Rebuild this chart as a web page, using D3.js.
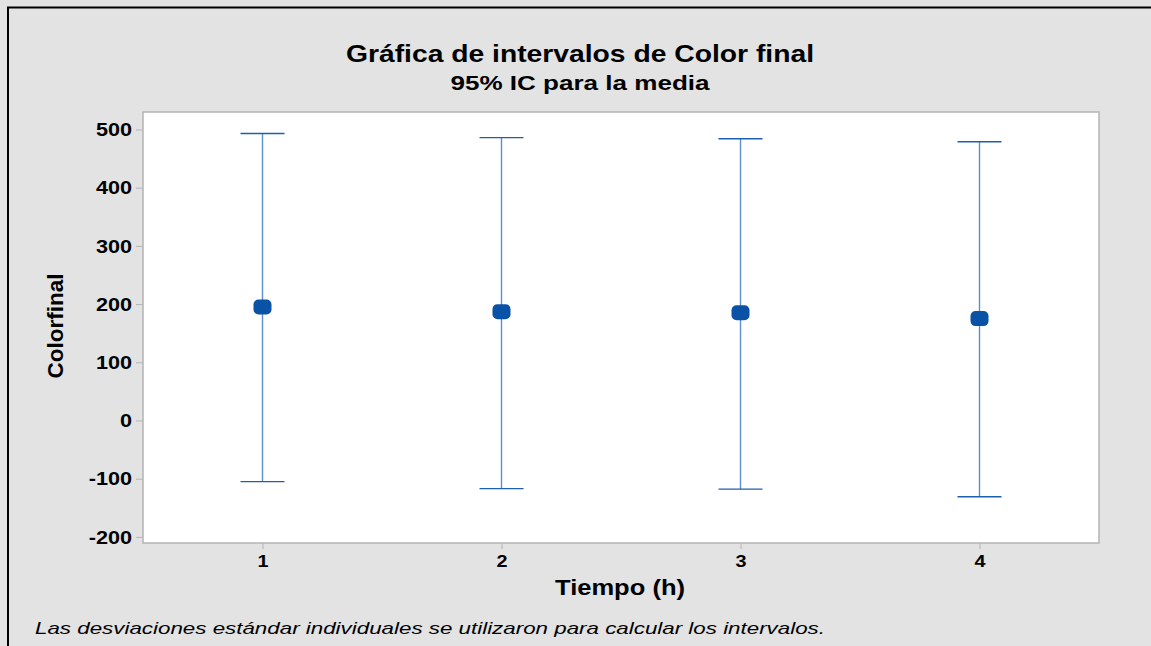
<!DOCTYPE html>
<html><head><meta charset="utf-8">
<script src="https://cdn.jsdelivr.net/npm/d3@7"></script>
<style>
html,body{margin:0;padding:0;background:#fff;}
svg{display:block;font-family:"Liberation Sans",Arial,sans-serif;}
</style></head>
<body><svg id="c" width="1151" height="646"></svg>
<script>
const categories = ["1","2","3","4"];
const means = [195, 187, 185, 175];
const upper = [493, 486, 484, 479];
const lower = [-105, -117, -118, -131];
const yTicks = [-200,-100,0,100,200,300,400,500];

const svg = d3.select("#c");
const W=1151,H=646;
svg.append("rect").attr("x",0).attr("y",0).attr("width",W).attr("height",H).attr("fill","#e3e3e3");
svg.append("line").attr("x1",7).attr("x2",W).attr("y1",7.5).attr("y2",7.5).attr("stroke","#000").attr("stroke-width",2);
svg.append("line").attr("x1",8).attr("x2",8).attr("y1",7).attr("y2",H).attr("stroke","#000").attr("stroke-width",2);

const L=143,R=1099,T=112,B=543;
svg.append("rect").attr("x",L).attr("y",T).attr("width",R-L).attr("height",B-T)
  .attr("fill","#fff").attr("stroke","#b4b4b4").attr("stroke-width",1.5);

const x = d3.scalePoint().domain(categories).range([L,R]).padding(0.5);
const y = d3.scaleLinear().domain([-210.5,530]).range([B,T]);

function stretch(sel, k){
  sel.each(function(){
    const w = this.getComputedTextLength();
    d3.select(this).attr("textLength", w*k).attr("lengthAdjust","spacingAndGlyphs");
  });
}

const yAxis = svg.append("g").attr("transform",`translate(${L},0)`)
  .call(d3.axisLeft(y).tickValues(yTicks).tickFormat(d=>String(d)).tickSize(7).tickPadding(4));
yAxis.select(".domain").remove();
yAxis.selectAll(".tick line").attr("stroke","#b4b4b4");
yAxis.selectAll(".tick text").attr("fill","#000").attr("font-size",18).attr("font-weight","bold")
  .attr("font-family","Liberation Sans, Arial, sans-serif").attr("dy","0.35em").call(stretch,1.2);

const xAxis = svg.append("g").attr("transform",`translate(0,${B})`)
  .call(d3.axisBottom(x).tickSize(6).tickPadding(6));
xAxis.select(".domain").remove();
xAxis.selectAll(".tick line").attr("stroke","#b4b4b4");
xAxis.selectAll(".tick text").attr("fill","#000").attr("font-size",16.5).attr("font-weight","bold")
  .attr("font-family","Liberation Sans, Arial, sans-serif").call(stretch,1.2);

const data = categories.map((c,i)=>({c,m:means[i],u:upper[i],l:lower[i]}));
const g = svg.append("g");
const capW = 22;
g.selectAll(".v").data(data).join("line")
  .attr("x1",d=>x(d.c)).attr("x2",d=>x(d.c)).attr("y1",d=>y(d.u)).attr("y2",d=>y(d.l))
  .attr("stroke","#5b8fd0").attr("stroke-width",1.4);
g.selectAll(".cu").data(data).join("line")
  .attr("x1",d=>x(d.c)-capW).attr("x2",d=>x(d.c)+capW).attr("y1",d=>y(d.u)).attr("y2",d=>y(d.u))
  .attr("stroke","#1d5fad").attr("stroke-width",1.4);
g.selectAll(".cl").data(data).join("line")
  .attr("x1",d=>x(d.c)-capW).attr("x2",d=>x(d.c)+capW).attr("y1",d=>y(d.l)).attr("y2",d=>y(d.l))
  .attr("stroke","#1d5fad").attr("stroke-width",1.4);
g.selectAll(".m").data(data).join("rect")
  .attr("x",d=>x(d.c)-9).attr("y",d=>y(d.m)-7.5).attr("width",18).attr("height",15)
  .attr("rx",5).attr("ry",5).attr("fill","#0a52a5");

svg.append("text").attr("x",580).attr("y",62).attr("text-anchor","middle")
  .attr("font-size",24).attr("font-weight","bold").attr("textLength",468).attr("lengthAdjust","spacingAndGlyphs")
  .text("Gráfica de intervalos de Color final");
svg.append("text").attr("x",580).attr("y",90).attr("text-anchor","middle")
  .attr("font-size",21).attr("font-weight","bold").attr("textLength",259).attr("lengthAdjust","spacingAndGlyphs")
  .text("95% IC para la media");
svg.append("text").attr("x",620).attr("y",595).attr("text-anchor","middle")
  .attr("font-size",22).attr("font-weight","bold").attr("textLength",130).attr("lengthAdjust","spacingAndGlyphs")
  .text("Tiempo (h)");
svg.append("text").attr("transform","translate(63,326) rotate(-90)").attr("text-anchor","middle")
  .attr("font-size",22).attr("font-weight","bold").attr("textLength",105).attr("lengthAdjust","spacingAndGlyphs")
  .text("Colorfinal");
svg.append("text").attr("x",35).attr("y",634)
  .attr("font-size",17).attr("font-style","italic").attr("textLength",790).attr("lengthAdjust","spacingAndGlyphs")
  .text("Las desviaciones estándar individuales se utilizaron para calcular los intervalos.");
</script></body></html>
